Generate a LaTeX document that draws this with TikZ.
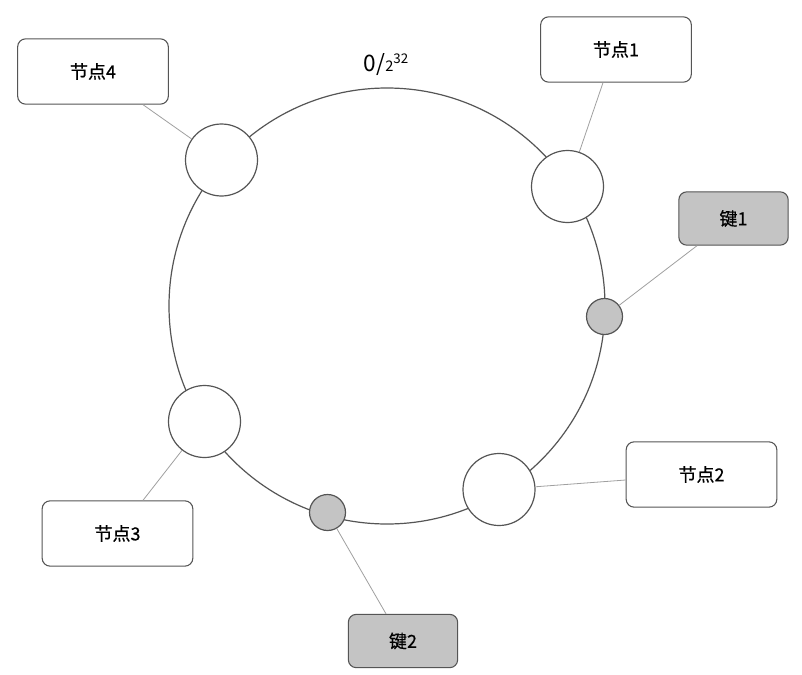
\documentclass[tikz,border=0pt]{standalone}
\usepackage{fontspec}
\setmainfont{Noto Sans CJK SC}[FakeBold=0.6]
\newfontfamily\labelfont{Noto Sans CJK SC}
\usetikzlibrary{calc}
\definecolor{keygray}{RGB}{196,196,196}
\definecolor{edgegray}{RGB}{85,85,85}
\definecolor{linkgray}{RGB}{160,160,160}
\tikzset{
  ring/.style={draw=edgegray, line width=0.9pt},
  srv/.style={circle, draw=edgegray, line width=0.9pt, fill=white, minimum size=54pt, inner sep=0pt},
  keydot/.style={circle, draw=edgegray, line width=0.9pt, fill=keygray, minimum size=27pt, inner sep=0pt},
  box/.style={rectangle, rounded corners=6pt, draw=edgegray, line width=0.8pt, fill=white,
    minimum width=113pt, minimum height=49pt, inner sep=0pt, font=\fontsize{13.5}{15}\selectfont},
  keybox/.style={box, fill=keygray, minimum width=82pt, minimum height=40pt},
  link/.style={draw=linkgray, line width=0.6pt}
}
\begin{document}
\begin{tikzpicture}[x=0.75pt,y=-0.75pt]
\useasboundingbox[fill=white] (0,0) rectangle (802,674);
\draw[ring] (387,306) circle [radius=218];
% ring members
\node[srv] (n4c) at (221.5,160) {};
\node[srv] (n1c) at (567.5,186.5) {};
\node[keydot] (k1c) at (604.5,316.5) {};
\node[srv] (n3c) at (204.5,421.5) {};
\node[keydot] (k2c) at (327.5,512.5) {};
\node[srv] (n2c) at (499,489.5) {};
% labels
\node[box] (n4b) at (93,71.5) {节点4};
\node[box] (n1b) at (616,49.5) {节点1};
\node[keybox] (k1b) at (733.5,218.5) {键1};
\node[box] (n3b) at (117.5,533.5) {节点3};
\node[box] (n2b) at (701.5,474.5) {节点2};
\node[keybox] (k2b) at (403,641) {键2};
\node[inner sep=0pt, anchor=base, font=\labelfont] (zero) at (386,72)
  {\fontsize{17}{19}\selectfont 0/{\fontsize{11}{13}\selectfont 2}\raisebox{6.5pt}{\fontsize{10}{12}\selectfont 32}};
% connectors
\draw[link] (n4c) -- ($(n4b.south)+(50,0)$);
\draw[link] (n1c) -- ($(n1b.south)+(-13,0)$);
\draw[link] (k1c) -- ($(k1b.south)+(-36.5,0)$);
\draw[link] (n3c) -- ($(n3b.north)+(25.5,0)$);
\draw[link] (n2c) -- ($(n2b.west)+(0,5.5)$);
\draw[link] (k2c) -- ($(k2b.north)+(-17,0)$);
\end{tikzpicture}
\end{document}
